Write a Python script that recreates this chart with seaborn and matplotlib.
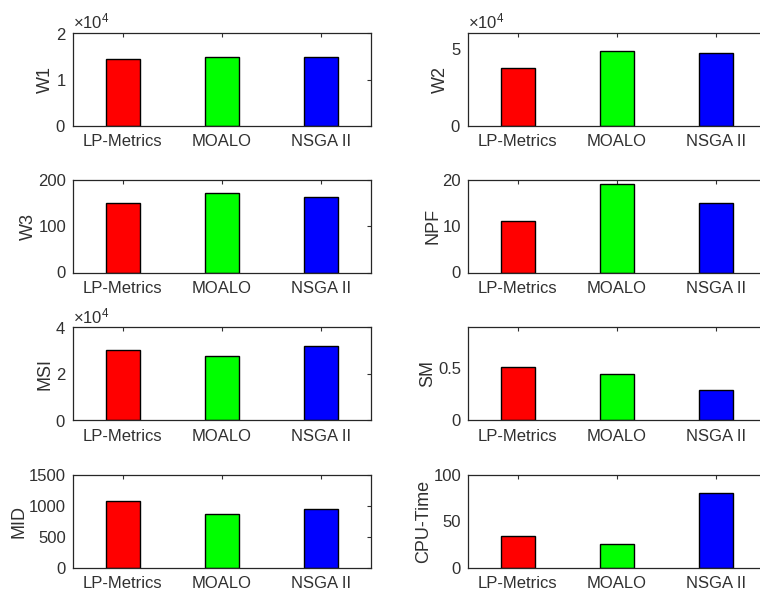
import matplotlib
matplotlib.use("Agg")
import matplotlib.pyplot as plt
import seaborn as sns
import pandas as pd
from matplotlib.ticker import ScalarFormatter

methods = ["LP-Metrics", "MOALO", "NSGA II"]
colors = ["#ff0000", "#00ff00", "#0000ff"]

w1 = [14400, 14900, 14900]
w2 = [37500, 48200, 47400]
w3 = [148.6, 170, 161.5]
npf = [11, 19, 15]
msi = [30200, 27500, 31800]
sm = [0.51, 0.437, 0.29]
mid = [1074, 868, 949]
cpu = [34, 25.4, 80.6]

labels = ["W1", "W2", "W3", "NPF", "MSI", "SM", "MID", "CPU-Time"]
series = [w1, w2, w3, npf, msi, sm, mid, cpu]
ylims = [(0, 20000), (0, 60000), (0, 200), (0, 20), (0, 40000), (0, 0.886), (0, 1500), (0, 100)]
yticks = [[0, 10000, 20000], [0, 50000], [0, 100, 200], [0, 10, 20],
          [0, 20000, 40000], [0, 0.5], [0, 500, 1000, 1500], [0, 50, 100]]
sci = [True, True, False, False, True, False, False, False]

sns.set_theme(style="white")
plt.rcParams["font.family"] = ["Liberation Sans", "DejaVu Sans"]
plt.rcParams["mathtext.fontset"] = "custom"
plt.rcParams["mathtext.rm"] = "Liberation Sans"
plt.rcParams["mathtext.it"] = "Liberation Sans"

W, H = 760, 593
fig = plt.figure(figsize=(W / 100, H / 100), dpi=100)

lefts = [73, 468]
tops = [33, 179.5, 327.3, 474.7]
aw, ah = 298, 93
ink = "#303030"

for i, (lab, vals) in enumerate(zip(labels, series)):
    r, c = divmod(i, 2)
    x0 = lefts[c]
    y0 = tops[r]
    ax = fig.add_axes([x0 / W, 1 - (y0 + ah) / H, aw / W, ah / H])
    df = pd.DataFrame({"method": methods, "value": vals})
    sns.barplot(data=df, x="method", y="value", hue="method", palette=colors,
                width=0.345, edgecolor="black", linewidth=1.0, legend=False,
                ax=ax, saturation=1)
    ax.set_xlim(-0.5, 2.5)
    ax.set_ylim(*ylims[i])
    ax.set_yticks(yticks[i])
    ax.set_xlabel("")
    ax.set_ylabel(lab, fontsize=13, color=ink, labelpad=1)
    ax.tick_params(axis="both", direction="in", length=3, width=0.8,
                   top=True, right=True, labelsize=12, colors=ink)
    ax.tick_params(axis="x", pad=6)
    ax.tick_params(axis="y", pad=5)
    for s in ax.spines.values():
        s.set_color("#262626")
        s.set_linewidth(0.9)
        s.set_visible(True)
    if sci[i]:
        fmt = ScalarFormatter(useMathText=True)
        fmt.set_powerlimits((0, 0))
        ax.yaxis.set_major_formatter(fmt)
        ax.yaxis.get_offset_text().set_fontsize(12)
        ax.yaxis.get_offset_text().set_color(ink)
    else:
        ax.set_yticklabels([("%g" % t) for t in yticks[i]])

fig.savefig("out.png", dpi=100)
